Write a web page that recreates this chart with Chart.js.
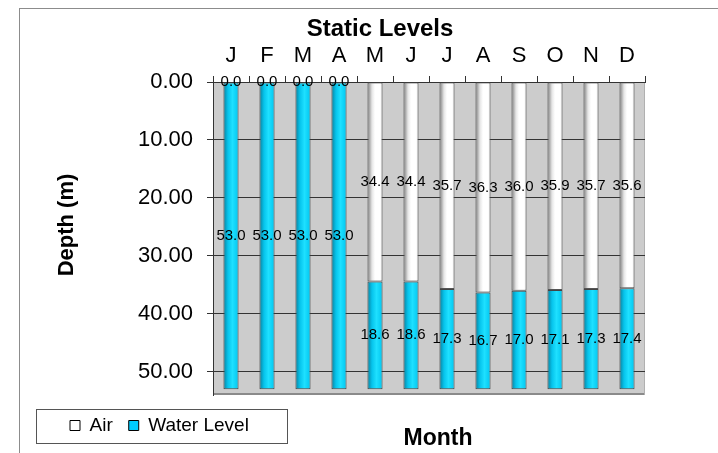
<!DOCTYPE html>
<html>
<head>
<meta charset="utf-8">
<title>Static Levels</title>
<script src="https://cdn.jsdelivr.net/npm/chart.js@4.4.0/dist/chart.umd.min.js"></script>
<style>
  html, body { margin: 0; padding: 0; background: #fff; }
  #wrap { position: relative; width: 718px; height: 453px; overflow: hidden; }
  #frame { position: absolute; left: 19px; top: 8px; width: 720px; height: 460px; border: 1px solid #8c8c8c; }
  #levelsChart { position: absolute; left: 0; top: 0; }
</style>
</head>
<body>
<div id="wrap">
  <div id="frame"></div>
  <canvas id="levelsChart" width="718" height="453"></canvas>
</div>
<script>
const months = ['J', 'F', 'M', 'A', 'M', 'J', 'J', 'A', 'S', 'O', 'N', 'D'];
const airDepth = [0.0, 0.0, 0.0, 0.0, 34.4, 34.4, 35.7, 36.3, 36.0, 35.9, 35.7, 35.6];
const waterColumn = [53.0, 53.0, 53.0, 53.0, 18.6, 18.6, 17.3, 16.7, 17.0, 17.1, 17.3, 17.4];
const depthTicks = [0, 10, 20, 30, 40, 50];

const FONT = '"Liberation Sans", Arial, Helvetica, sans-serif';
Chart.defaults.font.family = FONT;
Chart.defaults.color = '#000';

const legendColors = ['#ffffff', '#00ccff'];

// cylinder-ish shading, like the old excel 3d bars
function barFill(stops, solid) {
    return function (context) {
        const chart = context.chart;
        const xScale = chart.scales.x;
        if (context.type !== 'data' || !xScale || !chart.chartArea) {
            return solid;
        }
        const cx = xScale.getPixelForValue(context.dataIndex);
        const g = chart.ctx.createLinearGradient(cx - 7.5, 0, cx + 7.5, 0);
        stops.forEach(s => g.addColorStop(s[0], s[1]));
        return g;
    };
}

const plotBackground = {
    id: 'plotBackground',
    beforeDraw(chart) {
        const { ctx, chartArea: a } = chart;
        ctx.save();
        ctx.fillStyle = '#cccccc';
        ctx.fillRect(a.left, a.top, a.right - a.left, a.bottom - a.top);
        ctx.strokeStyle = '#8a8a8a';
        ctx.lineWidth = 2;
        ctx.beginPath();
        ctx.moveTo(a.left, a.bottom - 1);
        ctx.lineTo(a.right, a.bottom - 1);
        ctx.stroke();
        ctx.strokeStyle = '#b0b0b0';
        ctx.lineWidth = 1;
        ctx.beginPath();
        ctx.moveTo(a.right - 0.5, a.top);
        ctx.lineTo(a.right - 0.5, a.bottom);
        ctx.stroke();
        ctx.restore();
    }
};

const valueLabels = {
    id: 'valueLabels',
    afterDatasetsDraw(chart) {
        const ctx = chart.ctx;
        ctx.save();
        ctx.font = '15px ' + FONT;
        ctx.fillStyle = '#000';
        ctx.textAlign = 'center';
        ctx.textBaseline = 'middle';
        chart.data.datasets.forEach((ds, i) => {
            chart.getDatasetMeta(i).data.forEach((bar, j) => {
                ctx.fillText(ds.data[j].toFixed(1), bar.x, (bar.y + bar.base) / 2);
            });
        });
        ctx.restore();
    }
};

// legend frame + the two axis titles, placed where the spreadsheet put them
const axisTitlesAndFrame = {
    id: 'axisTitlesAndFrame',
    afterDraw(chart) {
        const ctx = chart.ctx;
        const boxes = chart.legend.legendHitBoxes;
        const a = chart.chartArea;
        ctx.save();
        if (boxes && boxes.length) {
            const first = boxes[0];
            const last = boxes[boxes.length - 1];
            const cy = first.top + first.height / 2;
            const left = Math.round(first.left - 34);
            const right = Math.round(last.left + last.width + 38);
            ctx.strokeStyle = '#555';
            ctx.lineWidth = 1;
            ctx.strokeRect(left + 0.5, Math.round(cy - 17) + 0.5, right - left, 34);
        }
        ctx.fillStyle = '#000';
        ctx.textAlign = 'center';
        ctx.textBaseline = 'middle';
        ctx.font = 'bold 23px ' + FONT;
        ctx.fillText('Month', (a.left + a.right) / 2 + 9, 439);

        ctx.font = 'bold 22px ' + FONT;
        ctx.translate(67, a.top + 143);
        ctx.rotate(-Math.PI / 2);
        ctx.fillText('Depth (m)', 0, 0);
        ctx.restore();
    }
};

const ctx = document.getElementById('levelsChart').getContext('2d');
const levelsChart = new Chart(ctx, {
    type: 'bar',
    data: {
        labels: months,
        datasets: [{
            label: 'Air',
            data: airDepth,
            backgroundColor: barFill([[0, '#7a7a7a'], [0.3, '#e6e6e6'], [0.5, '#ffffff'], [0.85, '#ffffff'], [1, '#dcdcdc']], '#ffffff'),
            borderColor: '#555',
            borderWidth: 1,
            borderSkipped: false
        }, {
            label: 'Water Level',
            data: waterColumn,
            backgroundColor: barFill([[0, '#0a7f9c'], [0.3, '#06c4ec'], [0.6, '#1ee0ff'], [1, '#00c6f0']], '#00ccff'),
            borderColor: '#444',
            borderWidth: 1,
            borderSkipped: false
        }]
    },
    options: {
        responsive: false,
        animation: false,
        categoryPercentage: 1,
        barPercentage: 0.42,
        layout: {
            padding: { left: 54, right: 12, top: 5, bottom: 8 }
        },
        plugins: {
            title: {
                display: true,
                text: 'Static Levels',
                color: '#000',
                font: { size: 24, weight: 'bold' },
                padding: { top: 10, bottom: 0 }
            },
            legend: {
                position: 'bottom',
                align: 'start',
                labels: {
                    boxWidth: 10,
                    boxHeight: 10,
                    padding: 16,
                    color: '#000',
                    font: { size: 19 },
                    generateLabels(chart) {
                        return chart.data.datasets.map((ds, i) => ({
                            text: ds.label,
                            fillStyle: legendColors[i],
                            strokeStyle: '#000',
                            lineWidth: 1,
                            fontColor: '#000',
                            hidden: false,
                            datasetIndex: i
                        }));
                    }
                }
            },
            tooltip: { enabled: false }
        },
        scales: {
            x: {
                position: 'top',
                stacked: true,
                grid: { drawOnChartArea: false, tickLength: 6, color: '#333' },
                border: { color: '#333' },
                ticks: { padding: 7, maxRotation: 0, autoSkip: false, font: { size: 22 } },
                afterFit(scale) { scale.height = 38.2; }
            },
            // empty strip between the plot floor and the legend
            x2: {
                type: 'linear',
                position: 'bottom',
                display: true,
                ticks: { display: false },
                grid: { display: false },
                border: { display: false },
                afterFit(scale) { scale.height = 5; }
            },
            y: {
                stacked: true,
                reverse: true,
                min: 0,
                max: 54,
                afterBuildTicks(scale) {
                    scale.ticks = depthTicks.map(v => ({ value: v }));
                },
                ticks: {
                    padding: 14,
                    font: { size: 22 },
                    callback: v => Number(v).toFixed(2)
                },
                grid: { color: '#333', tickLength: 6 },
                border: { color: '#333' },
                afterFit(scale) { scale.width = 159; }
            },
            y2: {
                position: 'right',
                display: true,
                ticks: { display: false },
                grid: { display: false },
                border: { display: false },
                afterFit(scale) { scale.width = 61; }
            }
        }
    },
    plugins: [plotBackground, valueLabels, axisTitlesAndFrame]
});
</script>
</body>
</html>
